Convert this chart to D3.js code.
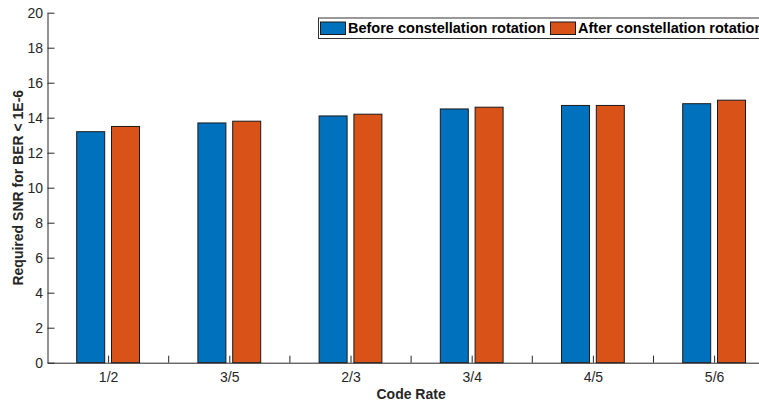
<!DOCTYPE html>
<html>
<head>
<meta charset="utf-8">
<script src="https://cdn.jsdelivr.net/npm/d3@7"></script>
<style>
  html, body { margin: 0; padding: 0; background: #fff; }
  svg { display: block; overflow: hidden; }
  text { font-family: "Liberation Sans", Arial, sans-serif; }
</style>
</head>
<body>
<svg id="chart" width="759" height="402"></svg>
<script>
// Required SNR per code rate, before and after constellation rotation
const categories = ["1/2", "3/5", "2/3", "3/4", "4/5", "5/6"];
const beforeRotation = [13.2, 13.7, 14.1, 14.5, 14.7, 14.8];
const afterRotation = [13.5, 13.8, 14.2, 14.6, 14.7, 15.0];
const seriesNames = ["Before constellation rotation", "After constellation rotation"];
const seriesColors = ["#0072BD", "#D95319"];
const yTickValues = [0, 2, 4, 6, 8, 10, 12, 14, 16, 18, 20];

const svg = d3.select("#chart");
const axisColor = "#262626";

const plot = { left: 47.5, right: 774.7, top: 12.7, bottom: 362.7 };

const x = d3.scalePoint()
  .domain(categories)
  .range([plot.left, plot.right])
  .padding(0.5);
const step = x.step();

const y = d3.scaleLinear()
  .domain([0, 20])
  .range([plot.bottom, plot.top]);

// grouped bars
const barWidth = step * 0.231;
const barOffset = step * 0.1436;
const series = [beforeRotation, afterRotation];

series.forEach((vals, si) => {
  const dx = si === 0 ? -barOffset : barOffset;
  svg.append("g")
    .selectAll("rect")
    .data(categories.map((c, i) => ({ c, v: vals[i] })))
    .join("rect")
    .attr("x", d => x(d.c) + dx - barWidth / 2)
    .attr("y", d => y(d.v))
    .attr("width", barWidth)
    .attr("height", d => y(0) - y(d.v))
    .attr("fill", seriesColors[si])
    .attr("stroke", "#1a1a1a")
    .attr("stroke-width", 1);
});

// x axis with ticks pointing inward
const xAxis = svg.append("g")
  .attr("transform", `translate(0,${y(0)})`)
  .call(d3.axisBottom(x).tickSizeInner(-7).tickSizeOuter(0).tickPadding(9));
xAxis.select(".domain").attr("stroke", axisColor);
xAxis.selectAll(".tick line").attr("stroke", axisColor);
xAxis.selectAll(".tick text")
  .attr("fill", axisColor)
  .style("font-size", "14px")
  .style("font-family", "'Liberation Sans', Arial, sans-serif");

// intermediate ticks halfway between categories
xAxis.append("g")
  .selectAll("line")
  .data(categories)
  .join("line")
  .attr("x1", d => x(d) + step / 2)
  .attr("x2", d => x(d) + step / 2)
  .attr("y1", 0)
  .attr("y2", -7)
  .attr("stroke", axisColor);

// y axis
const yAxis = svg.append("g")
  .attr("transform", `translate(${plot.left},0)`)
  .call(d3.axisLeft(y).tickValues(yTickValues).tickSizeInner(-7).tickSizeOuter(0).tickPadding(4.5));
yAxis.select(".domain").attr("stroke", axisColor);
yAxis.selectAll(".tick line").attr("stroke", axisColor);
yAxis.selectAll(".tick text")
  .attr("fill", axisColor)
  .style("font-size", "14px")
  .style("font-family", "'Liberation Sans', Arial, sans-serif");

// axis titles
svg.append("text")
  .attr("x", (plot.left + plot.right) / 2)
  .attr("y", 399)
  .attr("text-anchor", "middle")
  .attr("fill", axisColor)
  .style("font-size", "14px")
  .style("font-weight", "bold")
  .text("Code Rate");

svg.append("text")
  .attr("transform", `translate(22.5,${(plot.top + plot.bottom) / 2}) rotate(-90)`)
  .attr("text-anchor", "middle")
  .attr("fill", axisColor)
  .style("font-size", "14px")
  .style("font-weight", "bold")
  .text("Required SNR for BER < 1E-6");

// legend
const legend = svg.append("g").attr("transform", "translate(318,17.5)");
legend.append("rect")
  .attr("x", 0.5).attr("y", 0.5)
  .attr("width", 500).attr("height", 20.5)
  .attr("fill", "#fff")
  .attr("stroke", "#333")
  .attr("stroke-width", 1);
const legendX = [2, 232];
seriesNames.forEach((name, i) => {
  legend.append("rect")
    .attr("x", legendX[i] + 0.5).attr("y", 4.5)
    .attr("width", 25).attr("height", 12.5)
    .attr("fill", seriesColors[i])
    .attr("stroke", "#1a1a1a");
  legend.append("text")
    .attr("x", legendX[i] + 28)
    .attr("y", 15.7)
    .attr("fill", "#000")
    .style("font-size", "14.5px")
    .style("font-weight", "bold")
    .text(name);
});
</script>
</body>
</html>
